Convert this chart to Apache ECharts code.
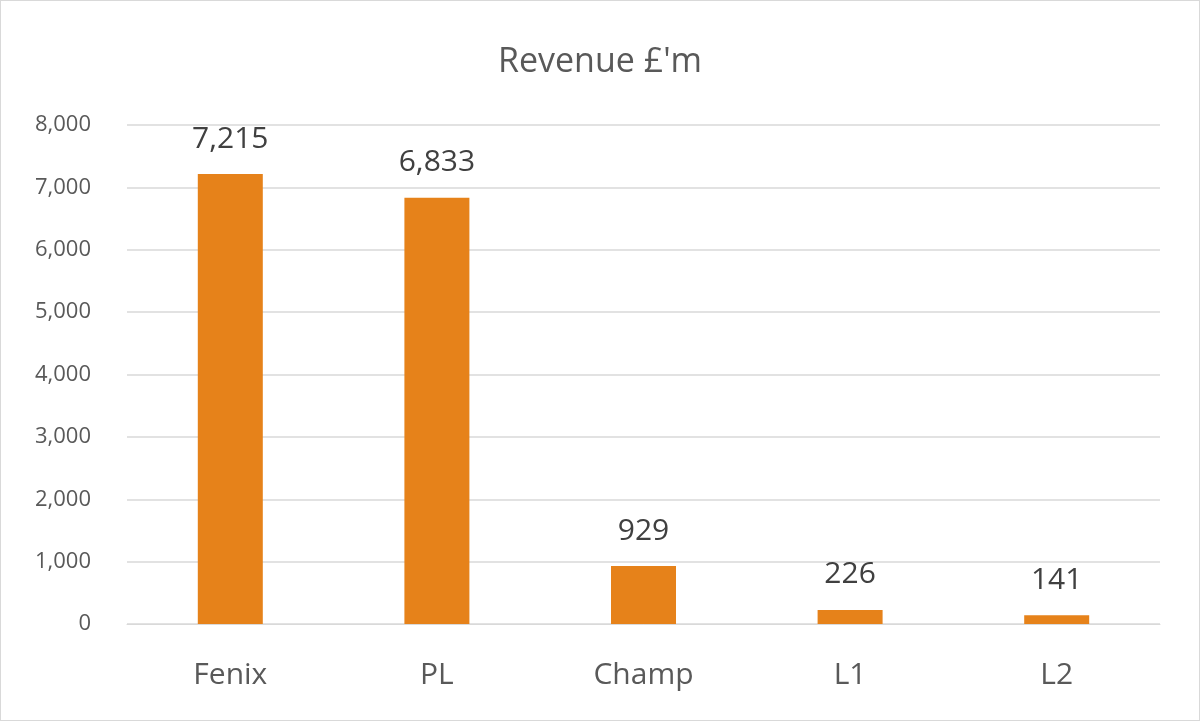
<!DOCTYPE html>
<html><head><meta charset="utf-8">
<script src="https://cdn.jsdelivr.net/npm/echarts@6/dist/echarts.min.js"></script>
<style>html,body{margin:0;padding:0;background:#fff}#c{width:1198px;height:719px;border:1px solid #d9d9d9}</style>
</head><body><div id="c"></div>
<script>
const categories = ['Fenix','PL','Champ','L1','L2'];
const revenue = [7215,6833,929,226,141];
const chart = echarts.init(document.getElementById('c'));
chart.setOption({
  animation:false,
  title:{text:"Revenue £'m",left:'center',top:39,textStyle:{fontFamily:'Open Sans',fontSize:34,fontWeight:'normal',color:'#595959'}},
  grid:{left:126,right:39,top:124,bottom:96},
  xAxis:{type:'category',data:categories,axisTick:{show:false},axisLine:{lineStyle:{color:'#d9d9d9'}},
    axisLabel:{fontFamily:'Open Sans',fontSize:30,color:'#595959',margin:36}},
  yAxis:{type:'value',min:0,max:8000,interval:1000,axisLine:{show:false},axisTick:{show:false},
    splitLine:{lineStyle:{color:'#d9d9d9',width:1.5}},
    axisLabel:{fontFamily:'Open Sans',fontSize:22,color:'#595959',margin:36,
      formatter:v=>v.toLocaleString('en-US')}},
  series:[{type:'bar',data:revenue,barWidth:65,itemStyle:{color:'#E6821A'},
    label:{show:true,position:'top',distance:20,fontFamily:'Open Sans',fontSize:30,color:'#404040',
      formatter:p=>p.value.toLocaleString('en-US')}}]
});
</script></body></html>
